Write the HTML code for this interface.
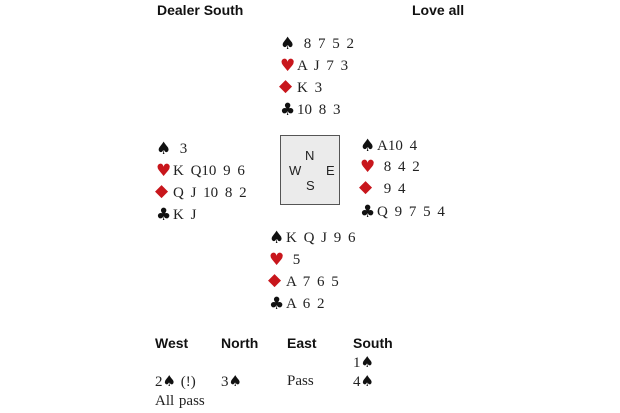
<!DOCTYPE html>
<html><head><meta charset="utf-8"><style>
body{margin:0;width:620px;height:413px;background:#fff;position:relative;overflow:hidden;font-family:"Liberation Serif",serif;color:#222}
.t{position:absolute;font-size:15px;line-height:18px;white-space:pre;word-spacing:3px}
.u{word-spacing:1px}
.h{position:absolute;font-family:"Liberation Sans",sans-serif;font-weight:bold;font-size:14px;line-height:16px;color:#111}
.s{display:inline-block;width:17px;font-family:"DejaVu Sans",sans-serif;font-size:17px;line-height:18px;color:#111;vertical-align:top;word-spacing:0}
.d{font-size:17px;position:relative;top:-2px;left:-1px}
.a{font-family:"DejaVu Sans",sans-serif;font-size:15px;line-height:18px;color:#111}
.r{color:#c8161c}
.box{position:absolute;left:280px;top:135px;width:58px;height:68px;background:#ebebeb;border:1.5px solid #555}
.c{position:absolute;font-family:"Liberation Sans",sans-serif;font-size:13px;line-height:14px;color:#222}
</style></head><body>
<div class="h" style="left:157px;top:2px">Dealer South</div>
<div class="h" style="left:412px;top:2px">Love all</div>

<div class="t" style="left:280px;top:35px"><span class="s">♠</span> 8 7 5 2</div>
<div class="t" style="left:280px;top:57px"><span class="s r">♥</span>A J 7 3</div>
<div class="t" style="left:280px;top:79px"><span class="s r d">◆</span>K 3</div>
<div class="t" style="left:280px;top:101px"><span class="s">♣</span>10 8 3</div>

<div class="t" style="left:156px;top:140px"><span class="s">♠</span> 3</div>
<div class="t" style="left:156px;top:162px"><span class="s r">♥</span>K Q10 9 6</div>
<div class="t" style="left:156px;top:184px"><span class="s r d">◆</span>Q J 10 8 2</div>
<div class="t" style="left:156px;top:206px"><span class="s">♣</span>K J</div>

<div class="t" style="left:360px;top:137px"><span class="s">♠</span>A10 4</div>
<div class="t" style="left:360px;top:158px"><span class="s r">♥</span> 8 4 2</div>
<div class="t" style="left:360px;top:180px"><span class="s r d">◆</span> 9 4</div>
<div class="t" style="left:360px;top:203px"><span class="s">♣</span>Q 9 7 5 4</div>

<div class="box"></div>
<div class="c" style="left:305px;top:149px">N</div>
<div class="c" style="left:289px;top:164px">W</div>
<div class="c" style="left:326px;top:164px">E</div>
<div class="c" style="left:306px;top:179px">S</div>

<div class="t" style="left:269px;top:229px"><span class="s">♠</span>K Q J 9 6</div>
<div class="t" style="left:269px;top:251px"><span class="s r">♥</span> 5</div>
<div class="t" style="left:269px;top:273px"><span class="s r d">◆</span>A 7 6 5</div>
<div class="t" style="left:269px;top:295px"><span class="s">♣</span>A 6 2</div>

<div class="h" style="left:155px;top:335px">West</div>
<div class="h" style="left:221px;top:335px">North</div>
<div class="h" style="left:287px;top:335px">East</div>
<div class="h" style="left:353px;top:335px">South</div>
<div class="t u" style="left:353px;top:353px">1<span class="a">♠</span></div>
<div class="t u" style="left:155px;top:372px">2<span class="a">♠</span> (!)</div>
<div class="t u" style="left:221px;top:372px">3<span class="a">♠</span></div>
<div class="t u" style="left:287px;top:372px">Pass</div>
<div class="t u" style="left:353px;top:372px">4<span class="a">♠</span></div>
<div class="t u" style="left:155px;top:392px">All pass</div>
</body></html>
